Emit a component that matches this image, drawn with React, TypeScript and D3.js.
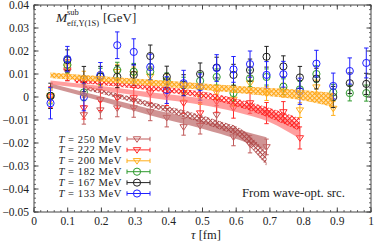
import React from "react";
import { scaleLinear, area, curveMonotoneX, range } from "d3";

// lattice times (fm)
const tau = [0.049, 0.099, 0.148, 0.197, 0.247, 0.296, 0.345, 0.394, 0.444, 0.493,
  0.542, 0.592, 0.641, 0.690, 0.740, 0.789, 0.838, 0.888, 0.937, 0.986];

// effective masses (GeV) per temperature
const m250 = [-0.001, 0.011, -0.0078, -0.0057, -0.0048, -0.0048, -0.0065, -0.009, -0.013, -0.0125, -0.0078, -0.0174, -0.0205, -0.0217];
const e250 = [0.004, 0.004, 0.004, 0.0038, 0.0038, 0.004, 0.0038, 0.004, 0.0036, 0.0036, 0.004, 0.0038, 0.0038, 0.0034];
const m222 = [0.0, 0.0117, -0.0048, -0.0013, -0.0004, -0.0004, 0.0017, 0.0009, -0.0026, -0.007, -0.002, -0.0048, -0.0026, -0.007, -0.0065, -0.0178];
const e222 = [0.0045, 0.0045, 0.0048, 0.0046, 0.0045, 0.0046, 0.0044, 0.0046, 0.0045, 0.0045, 0.0046, 0.0044, 0.0045, 0.0046, 0.0045, 0.0048];
const m200 = [0.0005, 0.013, 0.008, 0.008, 0.011, 0.01, 0.009, 0.007, 0.0017, 0.0, 0.002, -0.001, 0.006, 0.0015, 0.003, -0.0057, 0.0043, -0.005];
const e200 = [0.003, 0.003, 0.0032, 0.003, 0.0032, 0.003, 0.0031, 0.003, 0.003, 0.0032, 0.003, 0.003, 0.0031, 0.003, 0.003, 0.0032, 0.003, 0.003];
const m182 = [0.0005, 0.014, 0.002, 0.009, 0.0117, 0.011, 0.011, 0.007, 0.0052, 0.007, 0.0087, 0.0017, 0.0081, 0.0087, 0.0045, 0.0033, 0.01, 0.002, 0.0017, 0.0017];
const e182 = [0.0035, 0.0035, 0.0036, 0.0035, 0.0034, 0.0036, 0.0035, 0.0035, 0.0034, 0.0036, 0.0035, 0.0035, 0.0036, 0.0035, 0.0034, 0.0035, 0.0036, 0.0035, 0.0034, 0.0035];
const m167 = [0.0005, 0.016, 0.0078, 0.0088, 0.0088, 0.0096, 0.0178, 0.0088, 0.0052, 0.01, 0.0128, 0.0096, 0.0117, 0.0175, 0.0133, 0.0085, 0.008, 0.0, 0.006, 0.0057];
const e167 = [0.0055, 0.0045, 0.0055, 0.0045, 0.0048, 0.0045, 0.0048, 0.0046, 0.0045, 0.0048, 0.0045, 0.0046, 0.0048, 0.0045, 0.0046, 0.0048, 0.0045, 0.0046, 0.0045, 0.0046];
const m133 = [-0.0027, 0.0165, 0.0, 0.0095, 0.0225, 0.0196, 0.013, 0.003, 0.006, 0.0043, 0.0126, 0.012, 0.0143, 0.0096, 0.0099, 0.0025, 0.0145, 0.0048, 0.0113, 0.0148];
const e133 = [0.0068, 0.0055, 0.006, 0.0055, 0.0058, 0.0057, 0.0056, 0.0058, 0.0056, 0.0057, 0.0058, 0.0056, 0.0057, 0.0058, 0.0056, 0.0057, 0.0058, 0.0056, 0.0057, 0.0065];

// fit bands
const bOrangeT = [0.049, 0.2, 0.35, 0.5, 0.65, 0.8, 0.888];
const bOrangeLo = [0.0083, 0.0066, 0.0049, 0.0031, 0.0011, -0.0015, -0.0043];
const bOrangeHi = [0.0107, 0.009, 0.0075, 0.0059, 0.0043, 0.0029, 0.0017];
const bRedT = [0.049, 0.2, 0.35, 0.5, 0.6, 0.7, 0.789];
const bRedLo = [0.0054, 0.0028, -0.0004, -0.0035, -0.0065, -0.011, -0.0182];
const bRedHi = [0.0072, 0.0048, 0.002, -0.0005, -0.0025, -0.006, -0.0118];
const hRedT = [0.12, 0.25, 0.4, 0.55, 0.67, 0.789];
const hRedLo = [0.0062, 0.0045, 0.0018, -0.002, -0.0075, -0.0148];
const hRedHi = [0.0082, 0.0065, 0.0042, 0.001, -0.0035, -0.0092];
const bBrownT = [0.049, 0.2, 0.344, 0.5, 0.61, 0.69];
const bBrownLo = [0.0041, -0.0018, -0.0079, -0.0138, -0.0187, -0.0231];
const bBrownHi = [0.0059, 0.0002, -0.0051, -0.0102, -0.0143, -0.0175];
const hBrownT = [0.15, 0.25, 0.344, 0.45, 0.55, 0.61, 0.65, 0.69];
const hBrownLo = [0.003, -0.0005, -0.0045, -0.009, -0.014, -0.0175, -0.023, -0.03];
const hBrownHi = [0.005, 0.0015, -0.0021, -0.006, -0.0104, -0.0135, -0.018, -0.024];

const xTicks = [0, 0.1, 0.2, 0.3, 0.4, 0.5, 0.6, 0.7, 0.8, 0.9, 1];
const xTickLabels = ["0", "0.1", "0.2", "0.3", "0.4", "0.5", "0.6", "0.7", "0.8", "0.9", "1"];
const yTicks = [-0.05, -0.04, -0.03, -0.02, -0.01, 0, 0.01, 0.02, 0.03, 0.04];
const yTickLabels = ["\u22120.05", "\u22120.04", "\u22120.03", "\u22120.02", "\u22120.01", "0", "0.01", "0.02", "0.03", "0.04"];

const series = [
  { T: "250", m: m250, e: e250, color: "#c05a5a", sym: "tri" },
  { T: "222", m: m222, e: e222, color: "#ff2a2a", sym: "tri" },
  { T: "200", m: m200, e: e200, color: "#ffae1a", sym: "tri" },
  { T: "182", m: m182, e: e182, color: "#2e9a2e", sym: "circ" },
  { T: "167", m: m167, e: e167, color: "#222222", sym: "circ" },
  { T: "133", m: m133, e: e133, color: "#2020ff", sym: "circ" },
];

const W = 374, H = 245;
const L = 34, R = 371, T0 = 5, B = 212;
const font = "'Liberation Serif', 'DejaVu Serif', serif";

const x = scaleLinear().domain([0, 1]).range([L, R]);
const y = scaleLinear().domain([-0.05, 0.04]).range([B, T0]);

function band(ts: number[], lo: number[], hi: number[]) {
  const pts = ts.map((t, i) => ({ t, lo: lo[i], hi: hi[i] }));
  return area<any>().x(d => x(d.t)).y0(d => y(d.lo)).y1(d => y(d.hi)).curve(curveMonotoneX)(pts) || "";
}

function Marker({ cx, cy, sym, color }: any) {
  if (sym === "circ") return <circle cx={cx} cy={cy} r={3.6} fill="none" stroke={color} strokeWidth={1} />;
  const s = 3.7;
  return <path d={`M${cx - s},${cy - s * 0.6}L${cx + s},${cy - s * 0.6}L${cx},${cy + s * 0.9}Z`} fill="none" stroke={color} strokeWidth={1} />;
}

export default function App() {
  const xMinor = range(0, 1.0001, 0.02);
  const yMinor = range(-0.05, 0.04001, 0.002);
  return (
    <svg width={W} height={H} style={{ position: "absolute", left: 0, top: 0, background: "#fff" }} fontFamily={font}>
      <defs>
        {[["hOr", "#ffa514"], ["hRed", "#ff2020"], ["hBr", "#b04848"]].map(([id, c]) => (
          <pattern key={id} id={id} width={3.2} height={3.2} patternUnits="userSpaceOnUse" patternTransform="rotate(45)">
            <line x1={0} y1={0.5} x2={3.2} y2={0.5} stroke={c} strokeWidth={1.1} />
            <line x1={0.5} y1={0} x2={0.5} y2={3.2} stroke={c} strokeWidth={1.1} />
          </pattern>
        ))}
        <clipPath id="plot"><rect x={L} y={T0} width={R - L} height={B - T0} /></clipPath>
      </defs>

      {/* data points */}
      <g clipPath="url(#plot)">
        {series.map(s => (
          <g key={s.T}>
            {s.m.map((v, i) => {
              const cx = x(tau[i]);
              const yl = y(v - s.e[i]), yh = y(v + s.e[i]);
              return (
                <g key={i}>
                  <line x1={cx} x2={cx} y1={yl} y2={yh} stroke={s.color} strokeWidth={1} />
                  <line x1={cx - 2.2} x2={cx + 2.2} y1={yl} y2={yl} stroke={s.color} strokeWidth={1} />
                  <line x1={cx - 2.2} x2={cx + 2.2} y1={yh} y2={yh} stroke={s.color} strokeWidth={1} />
                  <Marker cx={cx} cy={y(v)} sym={s.sym} color={s.color} />
                </g>
              );
            })}
          </g>
        ))}

        {/* fit bands */}
        <path d={band(bBrownT, bBrownLo, bBrownHi)} fill="#c07070" opacity={0.75} />
        <path d={band(hBrownT, hBrownLo, hBrownHi)} fill="url(#hBr)" />
        <path d={band(bRedT, bRedLo, bRedHi)} fill="#ff6a6a" opacity={0.65} />
        <path d={band(hRedT, hRedLo, hRedHi)} fill="url(#hRed)" />
        <path d={band(bOrangeT, bOrangeLo, bOrangeHi)} fill="#ffc45a" opacity={0.45} />
        <path d={band(bOrangeT, bOrangeLo, bOrangeHi)} fill="url(#hOr)" />
      </g>

      {/* frame and ticks */}
      <rect x={L} y={T0} width={R - L} height={B - T0} fill="none" stroke="#444" strokeWidth={1} />
      {xMinor.map((t, i) => (
        <g key={"xm" + i} stroke="#444" strokeWidth={0.8}>
          <line x1={x(t)} x2={x(t)} y1={B} y2={B - 2} />
          <line x1={x(t)} x2={x(t)} y1={T0} y2={T0 + 2} />
        </g>
      ))}
      {yMinor.map((t, i) => (
        <g key={"ym" + i} stroke="#444" strokeWidth={0.8}>
          <line x1={L} x2={L + 2} y1={y(t)} y2={y(t)} />
          <line x1={R} x2={R - 2} y1={y(t)} y2={y(t)} />
        </g>
      ))}
      {xTicks.map((t, i) => (
        <g key={"x" + i}>
          <line x1={x(t)} x2={x(t)} y1={B} y2={B - 4.5} stroke="#444" />
          <line x1={x(t)} x2={x(t)} y1={T0} y2={T0 + 4.5} stroke="#444" />
          <text x={x(t)} y={225} fontSize={11.5} textAnchor="middle" fill="#222">{xTickLabels[i]}</text>
        </g>
      ))}
      {yTicks.map((t, i) => (
        <g key={"y" + i}>
          <line x1={L} x2={L + 4.5} y1={y(t)} y2={y(t)} stroke="#444" />
          <line x1={R} x2={R - 4.5} y1={y(t)} y2={y(t)} stroke="#444" />
          <text x={29} y={y(t) + 3.5} fontSize={11.5} textAnchor="end" fill="#222">{yTickLabels[i]}</text>
        </g>
      ))}

      {/* axis label */}
      <text x={206} y={239} fontSize={12.5} textAnchor="middle" fill="#222">
        <tspan fontStyle="italic">τ</tspan> [fm]
      </text>

      {/* quantity label */}
      <text x={56} y={22} fontSize={13.5} fill="#222" fontStyle="italic">M</text>
      <text x={67} y={15} fontSize={8.5} fill="#222">sub</text>
      <text x={67} y={26} fontSize={8.5} fill="#222">eff,Υ(1S)</text>
      <text x={103} y={22} fontSize={13} fill="#222">[GeV]</text>

      {/* legend */}
      {series.map((s, i) => {
        const ly = 139 + i * 10.9;
        return (
          <g key={"lg" + s.T}>
            <text x={122} y={ly + 3.5} fontSize={10.6} letterSpacing={0.55} textAnchor="end" fill="#222">
              <tspan fontStyle="italic">T</tspan> = {s.T} MeV
            </text>
            <line x1={127} x2={150} y1={ly} y2={ly} stroke={s.color} />
            <line x1={127} x2={127} y1={ly - 2.2} y2={ly + 2.2} stroke={s.color} />
            <line x1={150} x2={150} y1={ly - 2.2} y2={ly + 2.2} stroke={s.color} />
            <Marker cx={137} cy={ly} sym={s.sym} color={s.color} />
          </g>
        );
      })}

      <text x={345} y={197} fontSize={12.8} textAnchor="end" fill="#222">From wave-opt. src.</text>
    </svg>
  );
}
